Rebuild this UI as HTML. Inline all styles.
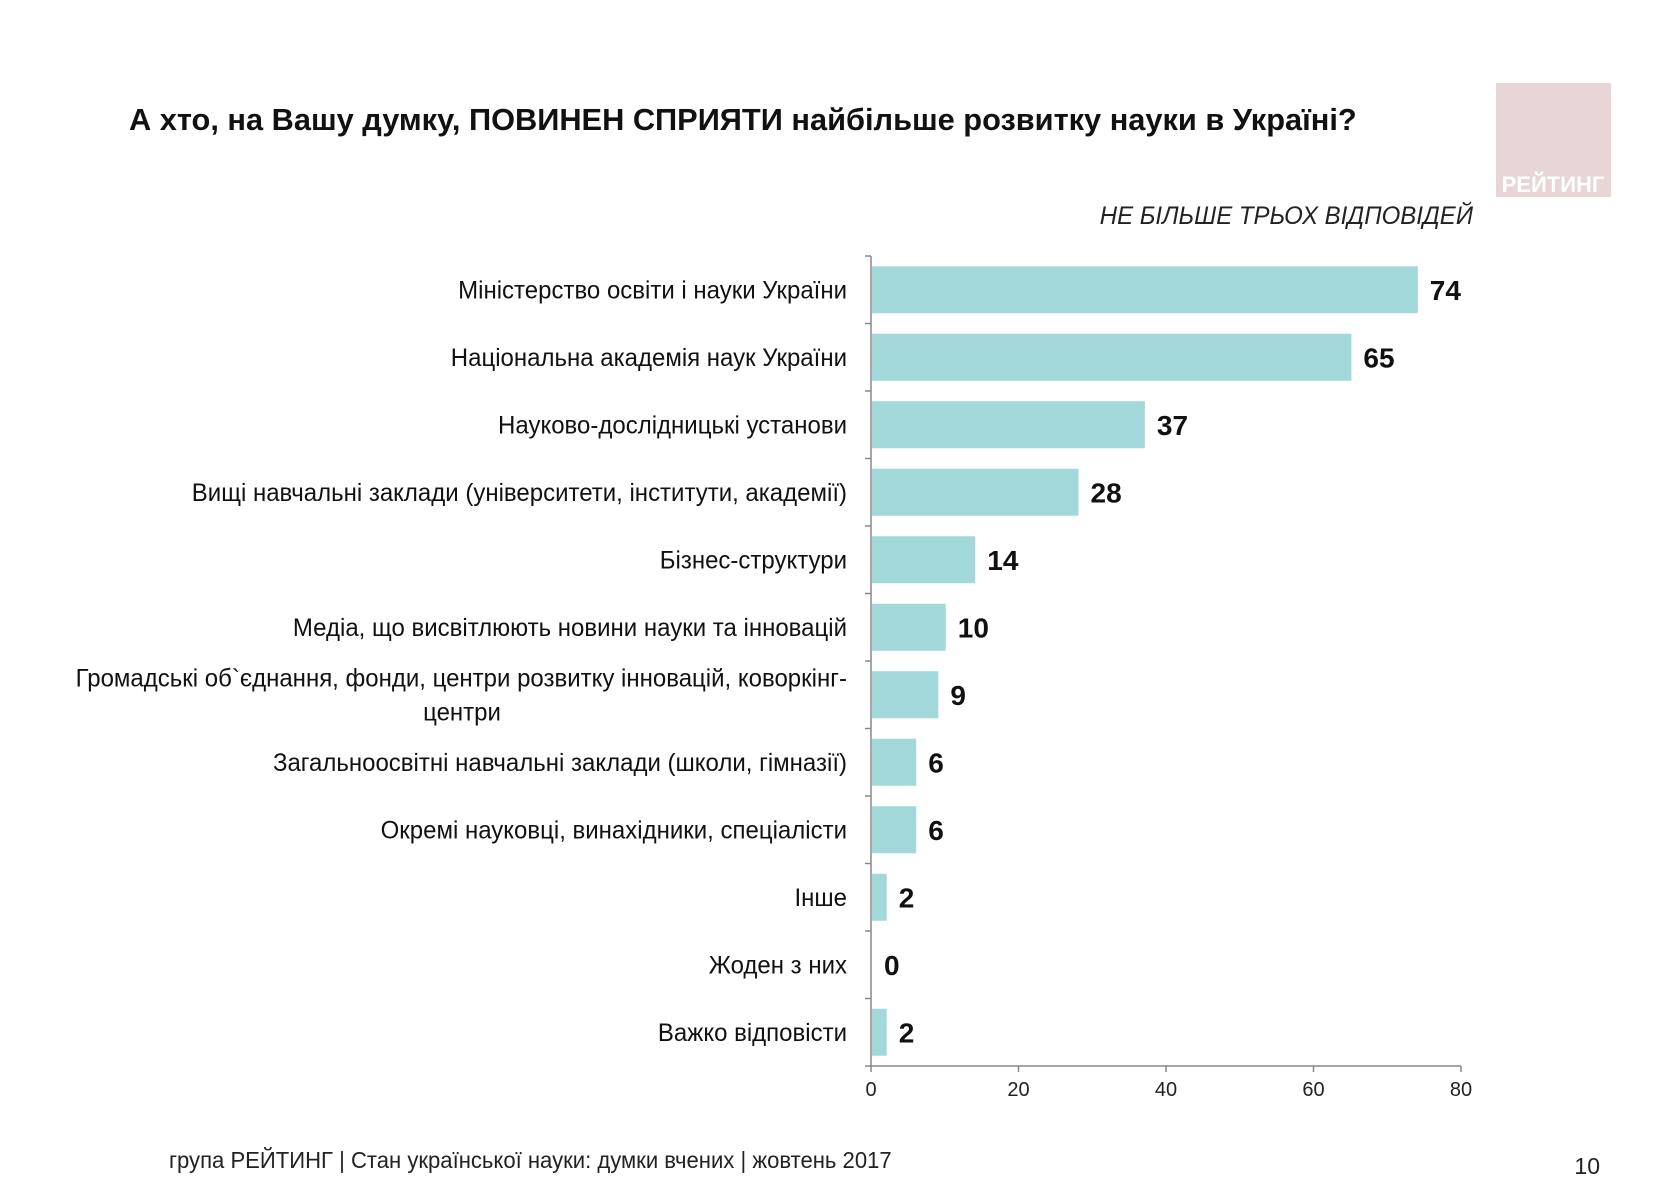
<!DOCTYPE html>
<html><head><meta charset="utf-8">
<style>
body{margin:0;background:#fff;}
#c{position:relative;width:1654px;height:1181px;overflow:hidden;font-family:"Liberation Sans",sans-serif;}
</style></head>
<body>
<div id="c">
<svg id="s" width="1654" height="1181" xmlns="http://www.w3.org/2000/svg">
<text x="129" y="130" font-size="31" font-weight="bold" fill="#111" font-family="Liberation Sans, sans-serif" transform="translate(129,0) scale(0.993,1) translate(-129,0)">А хто, на Вашу думку, ПОВИНЕН СПРИЯТИ найбільше розвитку науки в Україні?</text>
<text x="1473" y="224" font-size="25" font-style="italic" text-anchor="end" fill="#222" font-family="Liberation Sans, sans-serif" transform="translate(1473,0) scale(0.96,1) translate(-1473,0)">НЕ БІЛЬШЕ ТРЬОХ ВІДПОВІДЕЙ</text>
<g>
<rect x="1496" y="83" width="115" height="114" fill="#e8d6d6"/>
<text x="1553" y="192" font-size="22" font-weight="bold" text-anchor="middle" fill="#fff" font-family="Liberation Sans, sans-serif">РЕЙТИНГ</text>
</g>
<g id="plot"></g>
<text x="169" y="1168" font-size="23" fill="#222" font-family="Liberation Sans, sans-serif" transform="translate(169,0) scale(0.96,1) translate(-169,0)">група РЕЙТИНГ | Стан української науки: думки вчених | жовтень 2017</text>
<text x="1600" y="1174" font-size="23" text-anchor="end" fill="#222" font-family="Liberation Sans, sans-serif">10</text>
</svg>
</div>
<script>
const categories=[["Міністерство освіти і науки України"],["Національна академія наук України"],["Науково-дослідницькі установи"],["Вищі навчальні заклади (університети, інститути, академії)"],["Бізнес-структури"],["Медіа, що висвітлюють новини науки та інновацій"],["Громадські об`єднання, фонди, центри розвитку інновацій, коворкінг-","центри"],["Загальноосвітні навчальні заклади (школи, гімназії)"],["Окремі науковці, винахідники, спеціалісти"],["Інше"],["Жоден з них"],["Важко відповісти"]];
const values=[74,65,37,28,14,10,9,6,6,2,0,2];
const valueLabels=["74","65","37","28","14","10","9","6","6","2","0","2"];
const ticks=[0,20,40,60,80];
const NS="http://www.w3.org/2000/svg";
const g=document.getElementById('plot');
const x0=871,x1=1461,xmax=80,plotTop=256,band=67.5,bh=47;
const xs=v=>x0+(x1-x0)*v/xmax;
const yc=i=>plotTop+band*(i+0.5);
function mk(t,a){const e=document.createElementNS(NS,t);for(const k in a)e.setAttribute(k,a[k]);g.appendChild(e);return e;}
const bottom=plotTop+band*categories.length;
let ax=mk('line',{x1:x0,y1:plotTop,x2:x0,y2:bottom,stroke:'#888','stroke-width':1.5});


let bx=mk('line',{x1:x0,y1:bottom,x2:x1,y2:bottom,stroke:'#888','stroke-width':1.5});


for(let i=0;i<=categories.length;i++){mk('line',{x1:x0-6,y1:plotTop+band*i,x2:x0,y2:plotTop+band*i,stroke:'#888','stroke-width':1.5});}
ticks.forEach(t=>{
 mk('line',{x1:xs(t),y1:bottom,x2:xs(t),y2:bottom+6,stroke:'#888','stroke-width':1.5});
 let tl=mk('text',{x:xs(t),y:bottom+30,'font-size':20,'text-anchor':'middle',fill:'#222','font-family':'Liberation Sans, sans-serif'});
 tl.textContent=t;
 
 
});
values.forEach((v,i)=>{
 const y=yc(i);
 let r=mk('rect',{x:x0+1,y:y-bh/2,width:Math.max(0,xs(v)-x0),height:bh,fill:'#a3d8da'});
 
 
 const vx=xs(v)+13;
 let vl=mk('text',{x:vx,y:y+10,'font-size':28,'font-weight':'bold',fill:'#111','font-family':'Liberation Sans, sans-serif'});
 vl.textContent=valueLabels[i];
 
 
 const lines=categories[i];
 lines.forEach((ln,j)=>{
  const ly=y+9+(j-(lines.length-1)/2)*34;
  const second=lines.length>1&&j===1;
  const lx=second?462:847;
  let cl=mk('text',{x:lx,y:ly,'font-size':25,'text-anchor':second?'middle':'end',fill:'#111','font-family':'Liberation Sans, sans-serif',transform:`translate(${lx},0) scale(0.96,1) translate(${-lx},0)`});
  cl.textContent=ln;
  
  
 });
});
</script>
</body></html>
